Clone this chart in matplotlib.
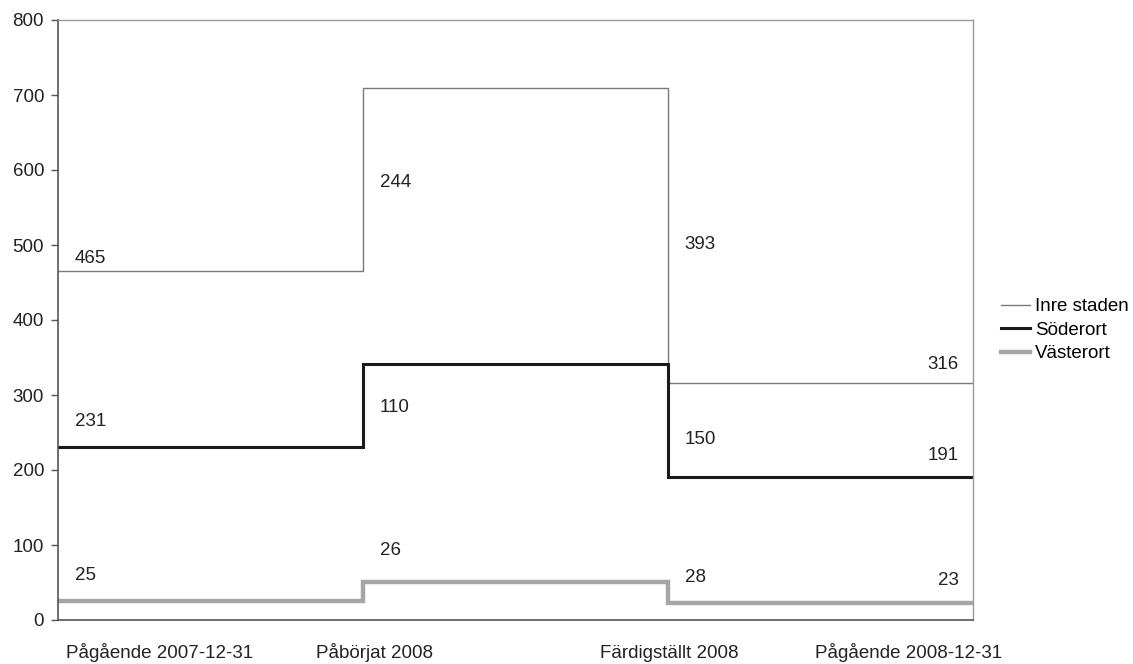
import matplotlib
matplotlib.use("Agg")
import matplotlib.pyplot as plt

plt.rcParams['font.family'] = ['Liberation Sans', 'DejaVu Sans']

categories = ["Pågående 2007-12-31", "Påbörjat 2008", "Färdigställt 2008", "Pågående 2008-12-31"]
series_names = ["Inre staden", "Söderort", "Västerort"]
# start, started (+), finished (-), end
inre = [465, 244, 393, 316]
soder = [231, 110, 150, 191]
vaster = [25, 26, 28, 23]
series = [inre, soder, vaster]

colors = ["#7a7a7a", "#1a1a1a", "#a6a6a6"]
widths = [1.0, 2.2, 3.2]
# label y positions (data units) for each series' four labels
label_y = [[482, 583, 501, 341],
           [264, 283, 240, 220],
           [60, 93, 56, 53]]
FS = 13.5

fig = plt.figure(figsize=(11.33, 6.64), dpi=100)
ax = fig.add_axes([58/1133, 1-620/664, 915/1133, 600/664])

for vals, name, c, w, ly in zip(series, series_names, colors, widths, label_y):
    start, plus, minus, end = vals
    levels = [start, start + plus, start + plus - minus]
    xs = [0, 1, 1, 2, 2, 3]
    ys = [levels[0], levels[0], levels[1], levels[1], levels[2], levels[2]]
    ax.plot(xs, ys, color=c, lw=w, label=name, solid_joinstyle='miter')
    for i, v in enumerate(vals):
        if i < 3:
            ax.text(i + 0.055, ly[i], str(v), ha='left', va='center', fontsize=FS, color='#222222')
        else:
            ax.text(2.954, ly[i], str(v), ha='right', va='center', fontsize=FS, color='#222222')

ax.set_xlim(0, 3)
ax.set_ylim(0, 800)
ax.set_yticks(range(0, 801, 100))
ax.set_xticks([])
ax.tick_params(axis='y', direction='out', length=5, width=1, color='#555555', labelsize=FS, labelcolor='#222222', pad=5)
for s in ['top', 'right']:
    ax.spines[s].set_color('#9a9a9a')
    ax.spines[s].set_linewidth(1)
for s in ['left', 'bottom']:
    ax.spines[s].set_color('#555555')
    ax.spines[s].set_linewidth(1.2)

label_x = [160, 375, 669, 909]
for lx, cat in zip(label_x, categories):
    ax.text((lx - 58) / 915, -33 / 600, cat, transform=ax.transAxes, ha='center', va='center', fontsize=FS, color='#222222')

leg = ax.legend(loc='center left', bbox_to_anchor=(1.022, 0.483), frameon=False, fontsize=FS,
                handlelength=1.55, handletextpad=0.27, labelspacing=0.33, borderaxespad=0)

fig.savefig("out.png", dpi=100)
